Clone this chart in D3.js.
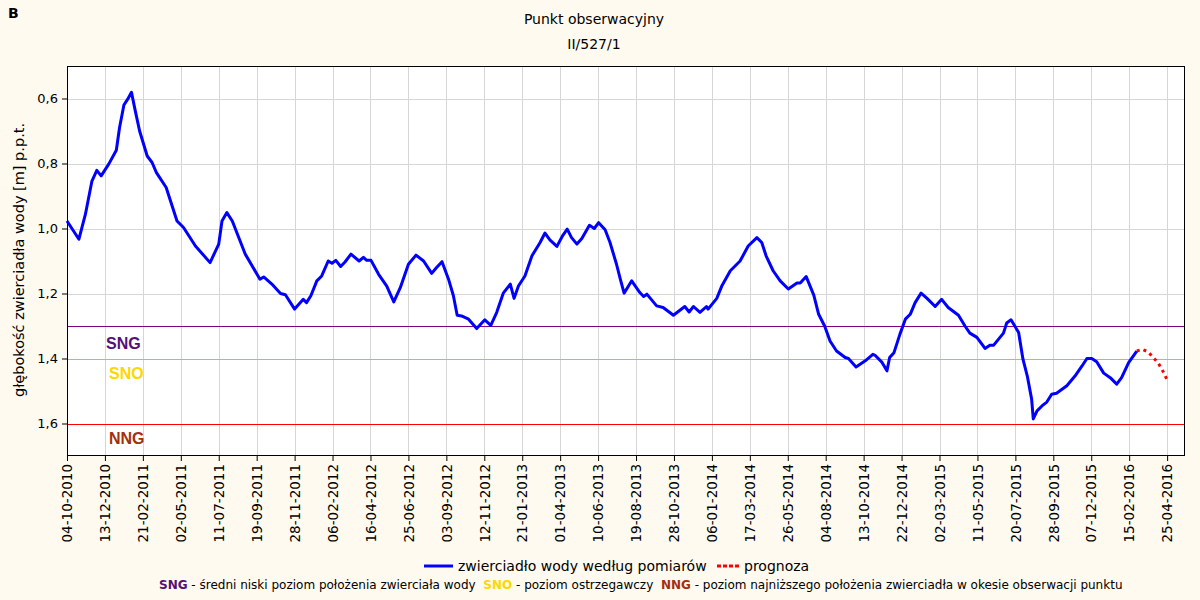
<!DOCTYPE html>
<html>
<head>
<meta charset="utf-8">
<script src="https://cdn.jsdelivr.net/npm/d3@7"></script>
<style>
  body { margin: 0; background: #fffaef; }
  svg { display: block; font-family: 'DejaVu Sans', sans-serif; }
</style>
</head>
<body>
<div id="vis"></div>
<script>
// measured water table depth (dd-mm-yyyy, m below ground)
var measDates = ['04-10-2010','26-10-2010','07-11-2010','19-11-2010','28-11-2010','06-12-2010','20-12-2010',
  '03-01-2011','09-01-2011','17-01-2011','24-01-2011','31-01-2011','07-02-2011','15-02-2011','01-03-2011',
  '10-03-2011','18-03-2011','05-04-2011','25-04-2011','07-05-2011','29-05-2011','25-06-2011','11-07-2011',
  '17-07-2011','26-07-2011','05-08-2011','29-08-2011','25-09-2011','02-10-2011','17-10-2011','02-11-2011',
  '11-11-2011','28-11-2011','14-12-2011','20-12-2011','28-12-2011','08-01-2012','17-01-2012','29-01-2012',
  '05-02-2012','12-02-2012','21-02-2012','29-02-2012','11-03-2012','26-03-2012','03-04-2012','09-04-2012',
  '17-04-2012','01-05-2012','16-05-2012','29-05-2012','10-06-2012','25-06-2012','09-07-2012','23-07-2012',
  '07-08-2012','16-08-2012','26-08-2012','07-09-2012','16-09-2012','23-09-2012','01-10-2012','14-10-2012',
  '29-10-2012','13-11-2012','24-11-2012','05-12-2012','17-12-2012','30-12-2012','06-01-2013','14-01-2013',
  '26-01-2013','08-02-2013','23-02-2013','04-03-2013','13-03-2013','26-03-2013','06-04-2013','14-04-2013',
  '22-04-2013','02-05-2013','11-05-2013','25-05-2013','03-06-2013','11-06-2013','23-06-2013','02-07-2013',
  '14-07-2013','21-07-2013','28-07-2013','11-08-2013','26-08-2013','02-09-2013','08-09-2013','26-09-2013',
  '08-10-2013','27-10-2013','17-11-2013','25-11-2013','03-12-2013','15-12-2013','27-12-2013','30-12-2013',
  '15-01-2014','24-01-2014','09-02-2014','27-02-2014','14-03-2014','30-03-2014','08-04-2014','16-04-2014',
  '29-04-2014','12-05-2014','27-05-2014','12-06-2014','18-06-2014','29-06-2014','13-07-2014','22-07-2014',
  '02-08-2014','12-08-2014','24-08-2014','09-09-2014','15-09-2014','29-09-2014','16-10-2014','30-10-2014',
  '03-11-2014','16-11-2014','25-11-2014','30-11-2014','08-12-2014','19-12-2014','29-12-2014','07-01-2015',
  '16-01-2015','27-01-2015','07-02-2015','22-02-2015','06-03-2015','18-03-2015','06-04-2015','18-04-2015',
  '27-04-2015','10-05-2015','25-05-2015','03-06-2015','10-06-2015','28-06-2015','04-07-2015','12-07-2015',
  '26-07-2015','03-08-2015','11-08-2015','19-08-2015','22-08-2015','29-08-2015','07-09-2015','16-09-2015',
  '25-09-2015','04-10-2015','23-10-2015','07-11-2015','20-11-2015','29-11-2015','08-12-2015','17-12-2015',
  '30-12-2015','11-01-2016','23-01-2016','01-02-2016','14-02-2016','29-02-2016'];

var measValues = [0.977,1.033,0.956,0.854,0.821,0.838,0.802,
  0.759,0.689,0.620,0.602,0.581,0.638,0.700,0.777,
  0.797,0.828,0.874,0.977,0.997,1.054,1.105,1.048,
  0.977,0.951,0.977,1.079,1.156,1.149,1.171,1.200,
  1.204,1.248,1.218,1.228,1.207,1.161,1.146,1.100,
  1.107,1.098,1.117,1.103,1.079,1.100,1.089,1.098,
  1.098,1.141,1.177,1.226,1.182,1.110,1.082,1.100,
  1.138,1.120,1.102,1.156,1.207,1.267,1.269,1.279,
  1.308,1.281,1.298,1.258,1.199,1.171,1.215,1.177,
  1.146,1.084,1.043,1.014,1.035,1.055,1.021,1.002,
  1.028,1.048,1.031,0.990,1.000,0.982,1.004,1.043,
  1.110,1.156,1.199,1.161,1.197,1.209,1.202,1.238,
  1.243,1.267,1.240,1.257,1.240,1.258,1.240,1.248,
  1.215,1.178,1.130,1.100,1.054,1.028,1.043,1.084,
  1.130,1.161,1.186,1.168,1.168,1.148,1.205,1.264,
  1.300,1.346,1.377,1.397,1.400,1.426,1.407,1.387,
  1.390,1.412,1.438,1.397,1.382,1.325,1.279,1.264,
  1.228,1.199,1.215,1.240,1.218,1.243,1.267,1.300,
  1.322,1.335,1.369,1.359,1.359,1.322,1.291,1.281,
  1.320,1.402,1.454,1.525,1.586,1.561,1.546,1.534,
  1.510,1.507,1.484,1.454,1.423,1.400,1.400,1.410,
  1.445,1.459,1.479,1.459,1.413,1.377];

// forecast
var progDates = ['29-02-2016','10-03-2016','19-03-2016','28-03-2016','09-04-2016','18-04-2016','25-04-2016'];
var progValues = [1.377,1.372,1.378,1.392,1.415,1.441,1.466];

// reference levels
var levelNames = ['SNG','SNO','NNG'];
var levelValues = [1.3,1.4,1.6];
var levelLineColors = ['#800080','#f0b400','#ff0000'];
var levelTextColors = ['#541077','#ffd700','#a3300c'];
var levelTextY = [1.355, 1.445, 1.645];

var yTicks = [0.6,0.8,1.0,1.2,1.4,1.6];
var xTickStart = '04-10-2010';
var xTickCount = 30;
var xTickStepDays = 70;

var width = 1200;
var height = 600;
var margin = { left: 67, right: 15, top: 66, bottom: 144 };

var parse = d3.timeParse('%d-%m-%Y');
var fmt = d3.timeFormat('%d-%m-%Y');

var xTicks = d3.range(xTickCount).map(function (i) {
  return d3.timeDay.offset(parse(xTickStart), i * xTickStepDays);
});

var x = d3.scaleTime()
  .domain([parse('04-10-2010'), parse('28-05-2016')])
  .range([margin.left, width - margin.right]);

var y = d3.scaleLinear()
  .domain([0.5, 1.7])
  .range([margin.top, height - margin.bottom]);

var svg = d3.select('#vis').append('svg')
  .attr('width', width)
  .attr('height', height);

svg.append('rect')
  .attr('width', width).attr('height', height)
  .attr('fill', '#fffaef');

svg.append('rect')
  .attr('x', margin.left).attr('y', margin.top)
  .attr('width', width - margin.left - margin.right)
  .attr('height', height - margin.top - margin.bottom)
  .attr('fill', '#ffffff');

// grid
svg.append('g').selectAll('line.vg')
  .data(xTicks)
  .enter().append('line')
  .attr('x1', function (d) { return Math.round(x(d)) + 0.5; })
  .attr('x2', function (d) { return Math.round(x(d)) + 0.5; })
  .attr('y1', margin.top).attr('y2', height - margin.bottom)
  .attr('stroke', '#d6d6d6');

svg.append('g').selectAll('line.hg')
  .data(yTicks)
  .enter().append('line')
  .attr('x1', margin.left).attr('x2', width - margin.right)
  .attr('y1', function (d) { return Math.round(y(d)) + 0.5; })
  .attr('y2', function (d) { return Math.round(y(d)) + 0.5; })
  .attr('stroke', '#d6d6d6');

// reference level lines + labels
levelValues.forEach(function (v, i) {
  svg.append('line')
    .attr('x1', margin.left).attr('x2', width - margin.right)
    .attr('y1', Math.round(y(v)) + 0.5).attr('y2', Math.round(y(v)) + 0.5)
    .attr('stroke', levelLineColors[i]);
  svg.append('text')
    .attr('x', 106 + (i > 0 ? 3 : 0))
    .attr('y', y(levelTextY[i]))
    .attr('dy', '0.35em')
    .style('font-family', "'Liberation Sans', Arial, sans-serif")
    .style('font-size', '16px')
    .style('font-weight', 'bold')
    .style('fill', levelTextColors[i])
    .text(levelNames[i]);
});

var line = d3.line()
  .x(function (d) { return x(d.date); })
  .y(function (d) { return y(d.value); });

var meas = measDates.map(function (d, i) { return { date: parse(d), value: measValues[i] }; });
var prog = progDates.map(function (d, i) { return { date: parse(d), value: progValues[i] }; });

svg.append('path')
  .datum(prog)
  .attr('d', line)
  .attr('fill', 'none')
  .attr('stroke', '#ff0000')
  .attr('stroke-width', 3)
  .attr('stroke-dasharray', '3,4');

svg.append('path')
  .datum(meas)
  .attr('d', line)
  .attr('fill', 'none')
  .attr('stroke', '#0000ff')
  .attr('stroke-width', 3)
  .attr('stroke-linejoin', 'round');

// frame
svg.append('rect')
  .attr('x', margin.left + 0.5).attr('y', margin.top + 0.5)
  .attr('width', width - margin.left - margin.right - 1)
  .attr('height', height - margin.top - margin.bottom - 1)
  .attr('fill', 'none')
  .attr('stroke', '#000');

// axes
var yAxis = d3.axisLeft(y).tickValues(yTicks).tickSize(5).tickPadding(4)
  .tickFormat(function (d) { return d3.format('.1f')(d).replace('.', ','); });
var gy = svg.append('g')
  .attr('transform', 'translate(' + margin.left + ',0)')
  .call(yAxis);
gy.select('.domain').remove();
gy.selectAll('text').style('font-size', '13px').style('font-family', "'DejaVu Sans', sans-serif").style('fill', '#000');

var xAxis = d3.axisBottom(x).tickValues(xTicks).tickSize(5).tickFormat(fmt);
var gx = svg.append('g')
  .attr('transform', 'translate(0,' + (height - margin.bottom) + ')')
  .call(xAxis);
gx.select('.domain').remove();
gx.selectAll('text')
  .style('font-size', '13.5px')
  .style('font-family', "'DejaVu Sans', sans-serif")
  .style('fill', '#000')
  .attr('text-anchor', 'end')
  .attr('transform', 'rotate(-90)')
  .attr('x', -8)
  .attr('y', 0)
  .attr('dy', '0.35em');

// titles
svg.append('text')
  .attr('x', 8).attr('y', 18)
  .style('font-size', '14px').style('font-weight', 'bold')
  .text('B');

svg.append('text')
  .attr('x', 594).attr('y', 24)
  .attr('text-anchor', 'middle')
  .style('font-size', '14px')
  .text('Punkt obserwacyjny');

svg.append('text')
  .attr('x', 594).attr('y', 49)
  .attr('text-anchor', 'middle')
  .style('font-size', '14px')
  .text('II/527/1');

svg.append('text')
  .attr('transform', 'translate(24,' + 260 + ') rotate(-90)')
  .attr('text-anchor', 'middle')
  .style('font-size', '14.5px')
  .text('głębokość zwierciadła wody [m] p.p.t.');

// legend
svg.append('line')
  .attr('x1', 424).attr('x2', 453).attr('y1', 566).attr('y2', 566)
  .attr('stroke', '#0000ff').attr('stroke-width', 3);
svg.append('text')
  .attr('x', 458).attr('y', 571)
  .style('font-size', '14px')
  .text('zwierciadło wody według pomiarów');
svg.append('line')
  .attr('x1', 717).attr('x2', 739).attr('y1', 566).attr('y2', 566)
  .attr('stroke', '#ff0000').attr('stroke-width', 3).attr('stroke-dasharray', '4,2');
svg.append('text')
  .attr('x', 744).attr('y', 571)
  .style('font-size', '14px')
  .text('prognoza');

var foot = svg.append('text')
  .attr('x', 159).attr('y', 589)
  .style('font-size', '12px');
var footParts = [
  ['SNG', levelTextColors[0], true], [' - średni niski poziom położenia zwierciała wody  ', '#000', false],
  ['SNO', levelTextColors[1], true], [' - poziom ostrzegawczy  ', '#000', false],
  ['NNG', levelTextColors[2], true], [' - poziom najniższego położenia zwierciadła w okesie obserwacji punktu', '#000', false]
];
footParts.forEach(function (p) {
  foot.append('tspan')
    .style('fill', p[1])
    .style('font-weight', p[2] ? 'bold' : 'normal')
    .attr('xml:space', 'preserve')
    .text(p[0]);
});
</script>
</body>
</html>
